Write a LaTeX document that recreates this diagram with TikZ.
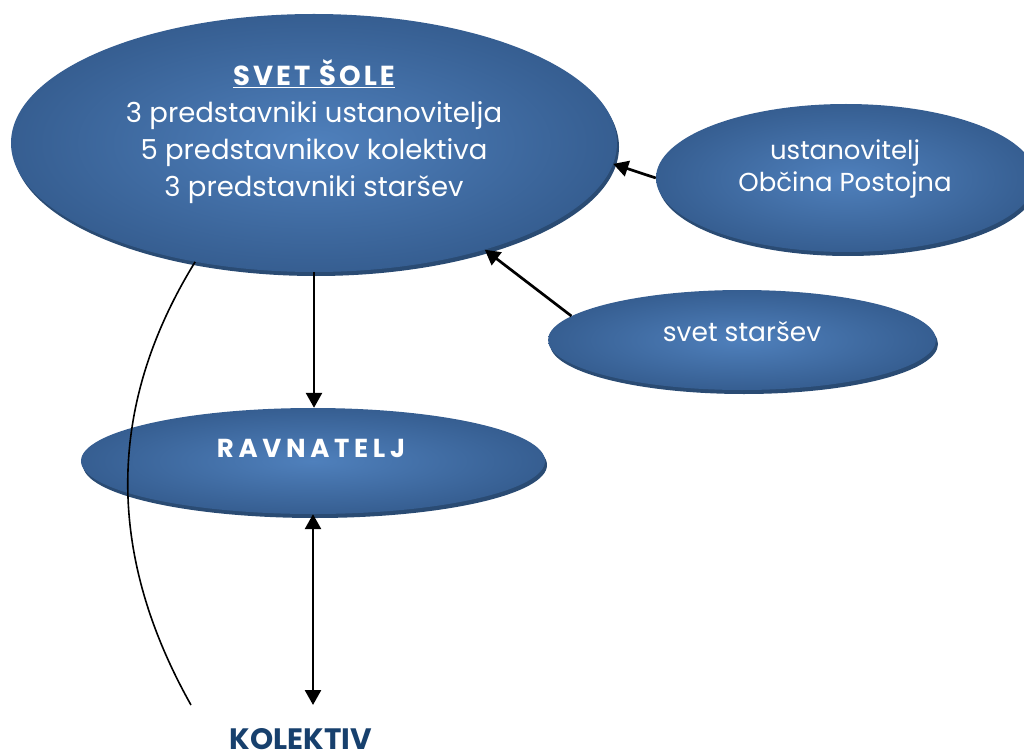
\documentclass[tikz,border=0pt]{standalone}
\usepackage{fontspec}
\setmainfont{Poppins}
\usetikzlibrary{arrows.meta,shadows,shapes.geometric}
\definecolor{blin}{HTML}{4F80BC}
\definecolor{blout}{HTML}{365E91}
\definecolor{blrim}{HTML}{2A4B73}
\definecolor{koltxt}{HTML}{17406D}
\tikzset{
  oval/.style={ellipse, inner sep=0pt, shading=radial, inner color=blin, outer color=blout,
     drop shadow={shadow xshift=2pt, shadow yshift=-4pt, fill=blrim, opacity=1}},
  wtext/.style={text=white, align=center, inner sep=0pt},
  arr/.style={line width=2.7pt, -{Triangle[length=15pt,width=16pt]}},
  darr/.style={line width=2.7pt, {Triangle[length=15pt,width=16pt]}-{Triangle[length=15pt,width=16pt]}},
}
\newcommand{\spc}[2]{{\bfseries\addfontfeatures{LetterSpace=#1}#2}}
\begin{document}
\begin{tikzpicture}[x=1pt,y=-1pt]
\useasboundingbox (0,0) rectangle (1024,751);
\node[oval, minimum width=606pt, minimum height=258pt] (svet) at (314,143) {};
\node[oval, minimum width=380pt, minimum height=148pt] (ust) at (846,178) {};
\node[oval, minimum width=388pt, minimum height=100pt] (star) at (742,340) {};
\node[oval, minimum width=464pt, minimum height=106pt] (ravn) at (313,461) {};

\node[wtext, font=\fontsize{27.5}{37}\selectfont] (svettxt) at (314,132)
  {\underline{\spc{11}{SVET ŠOLE}}\\3 predstavniki ustanovitelja\\5 predstavnikov kolektiva\\3 predstavniki staršev};
\node[wtext, font=\fontsize{26}{32}\selectfont] (usttxt) at (845,169) {ustanovitelj\\Občina Postojna};
\node[wtext, font=\fontsize{26.5}{32}\selectfont] (startxt) at (742,332) {svet staršev};
\node[wtext, font=\fontsize{26}{30}\selectfont] (ravntxt) at (311,448) {\spc{18}{RAVNATELJ}};
\node[text=koltxt, inner sep=0pt, anchor=base, font=\fontsize{29.5}{32}\selectfont\bfseries] (kol) at (301,749) {KOLEKTIV};

\coordinate (kend) at (313,705);
\coordinate (cend) at (191,705);
\draw[arr] (svet.south) -- (svet.south |- ravn.north);
\draw[darr] (ravn.south) -- (ravn.south |- kend);
\draw[arr] (ust.west) -- (svet.-4.4);
\draw[arr] (star.172) -- (svet.-32);
\draw[line width=1.6pt] (svet.225) .. controls (107,405) and (105,552) .. (cend);
\end{tikzpicture}
\end{document}
